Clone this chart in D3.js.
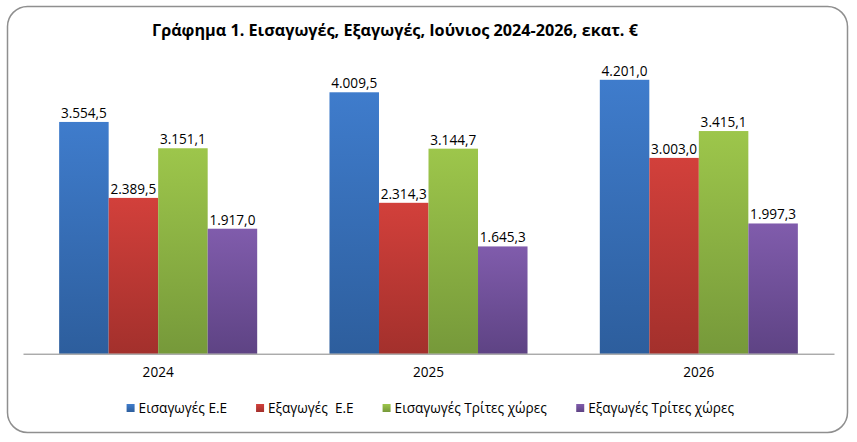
<!DOCTYPE html>
<html lang="el">
<head>
    <meta charset="UTF-8">
    <title>Γράφημα 1</title>
    <script src="https://d3js.org/d3.v7.min.js"></script>
    <style>
        body { margin: 0; background: #ffffff; }
        svg { display: block; }
        text { font-family: "Open Sans", "Noto Sans", sans-serif; fill: #000; }
    </style>
</head>
<body>
    <svg width="857" height="442" id="chart"></svg>

    <script>
        // data
        const years = ["2024", "2025", "2026"];
        const seriesNames = ["Εισαγωγές Ε.Ε", "Εξαγωγές  Ε.Ε", "Εισαγωγές Τρίτες χώρες", "Εξαγωγές Τρίτες χώρες"];
        const importsEU = [3554.5, 4009.5, 4201.0];
        const exportsEU = [2389.5, 2314.3, 3003.0];
        const importsThird = [3151.1, 3144.7, 3415.1];
        const exportsThird = [1917.0, 1645.3, 1997.3];
        const seriesValues = [importsEU, exportsEU, importsThird, exportsThird];

        // top / bottom gradient colours per series
        const topColors = ["#3f7ccc", "#d2403b", "#9dc64b", "#805cac"];
        const bottomColors = ["#2d5e9d", "#a3302c", "#76993a", "#5e4384"];

        const svg = d3.select("#chart");

        // frame
        svg.append("rect")
            .attr("x", 7.5).attr("y", 6.5)
            .attr("width", 840).attr("height", 426)
            .attr("rx", 20).attr("ry", 20)
            .attr("fill", "#fff")
            .attr("stroke", "#8f8f8f")
            .attr("stroke-width", 1.5);

        const defs = svg.append("defs");
        seriesNames.forEach((s, i) => {
            const g = defs.append("linearGradient")
                .attr("id", "grad" + i)
                .attr("x1", 0).attr("y1", 0).attr("x2", 0).attr("y2", 1);
            g.append("stop").attr("offset", "0%").attr("stop-color", topColors[i]);
            g.append("stop").attr("offset", "100%").attr("stop-color", bottomColors[i]);
        });

        const x0 = d3.scaleBand().domain(years).range([23, 834]).padding(0);
        const x1 = d3.scaleBand().domain(d3.range(seriesNames.length))
            .range([0, x0.bandwidth()]).paddingInner(0).paddingOuter(0.73);
        const y = d3.scaleLinear().domain([0, 4500]).range([353.7, 60.3]);

        const fmt = v => {
            const parts = v.toFixed(1).split(".");
            return parts[0].replace(/\B(?=(\d{3})+(?!\d))/g, ".") + "," + parts[1];
        };

        // title
        svg.append("text")
            .attr("x", 395).attr("y", 36)
            .attr("text-anchor", "middle")
            .attr("font-size", 16.2)
            .attr("font-weight", "bold")
            .text("Γράφημα 1. Εισαγωγές, Εξαγωγές, Ιούνιος 2024-2026, εκατ. €");

        // bars
        const groups = svg.selectAll("g.year")
            .data(years)
            .enter().append("g")
            .attr("class", "year")
            .attr("transform", d => `translate(${x0(d)},0)`);

        groups.selectAll("rect")
            .data((d, yi) => seriesValues.map((vals, si) => ({ si: si, v: vals[yi] })))
            .enter().append("rect")
            .attr("x", d => x1(d.si))
            .attr("y", d => y(d.v))
            .attr("width", x1.bandwidth())
            .attr("height", d => y(0) - y(d.v))
            .attr("fill", d => `url(#grad${d.si})`);

        groups.selectAll("text.lbl")
            .data((d, yi) => seriesValues.map((vals, si) => ({ si: si, v: vals[yi] })))
            .enter().append("text")
            .attr("class", "lbl")
            .attr("x", d => x1(d.si) + x1.bandwidth() / 2)
            .attr("y", d => y(d.v) - 4)
            .attr("text-anchor", "middle")
            .attr("font-size", 13.6)
            .text(d => fmt(d.v));

        // axis
        const axis = svg.append("g")
            .attr("transform", `translate(0,${y(0)})`)
            .call(d3.axisBottom(x0).tickSize(0).tickPadding(14));
        axis.select(".domain").attr("stroke", "#868686").attr("stroke-width", 1);
        axis.selectAll("text")
            .attr("font-size", 13.6)
            .attr("font-family", "Open Sans, Noto Sans, sans-serif")
            .attr("fill", "#000");

        // legend
        const legendGap = 29;
        const legend = svg.append("g").attr("transform", "translate(0,408)");
        const items = legend.selectAll("g")
            .data(seriesNames)
            .enter().append("g");
        items.append("rect")
            .attr("width", 8).attr("height", 8)
            .attr("y", -4)
            .attr("fill", (d, i) => `url(#grad${i})`);
        items.append("text")
            .attr("x", 12)
            .attr("dy", "0.35em")
            .attr("font-size", 13.6)
            .attr("xml:space", "preserve")
            .style("white-space", "pre")
            .text(d => d);

        let offsets = [];
        let cur = 0;
        items.each(function () {
            offsets.push(cur);
            cur += this.getBBox().width + legendGap;
        });
        const total = cur - legendGap;
        const start = 430.5 - total / 2;
        items.attr("transform", (d, i) => `translate(${start + offsets[i]},0)`);
    </script>
</body>
</html>
